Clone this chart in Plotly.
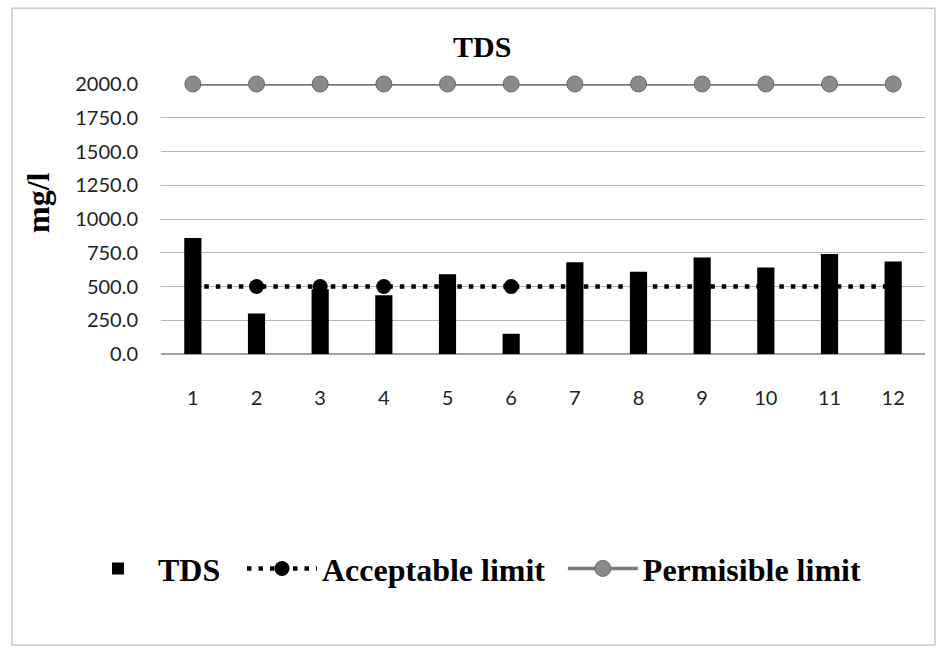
import plotly.graph_objects as go

categories = [str(i) for i in range(1, 13)]
tds = [860, 300, 480, 435, 590, 150, 680, 610, 715, 640, 740, 685]
acceptable = [500] * 12
permissible = [2000] * 12
y_ticks = [0, 250, 500, 750, 1000, 1250, 1500, 1750, 2000]
y_tick_text = [f"{v:.1f}" for v in y_ticks]

fig = go.Figure()
fig.add_trace(go.Bar(
    x=categories, y=tds, name="TDS",
    marker=dict(color="#000000", line=dict(width=0)),
    width=0.27, legend="legend",
))
fig.add_trace(go.Scatter(
    x=categories, y=acceptable, name="Acceptable limit", mode="lines+markers",
    line=dict(color="#000000", width=4.5, dash="4.5px,7px"),
    marker=dict(color="#000000", size=15),
    cliponaxis=False, legend="legend2",
))
fig.add_trace(go.Scatter(
    x=categories, y=permissible, name="Permisible limit", mode="lines+markers",
    line=dict(color="#7a7a7a", width=3.5),
    marker=dict(color="#8a8a8a", size=16, line=dict(color="#6a6a6a", width=1)),
    cliponaxis=False, legend="legend3",
))

legend_font = dict(family="Liberation Serif", size=32, color="#000", weight="bold")
legend_common = dict(orientation="h", xanchor="left", y=-0.795, yanchor="middle",
                     font=legend_font, itemwidth=70, bgcolor="rgba(0,0,0,0)")

fig.update_layout(
    width=940, height=650,
    margin=dict(l=161, r=15, t=84, b=296, autoexpand=False),
    paper_bgcolor="white", plot_bgcolor="white",
    title=dict(text="TDS", x=0.513, xanchor="center", y=0.928, yanchor="middle",
               font=dict(family="Liberation Serif", size=30, color="#000", weight="bold")),
    showlegend=True,
    legend=dict(x=-0.1086, **legend_common),
    legend2=dict(x=0.106, **legend_common),
    legend3=dict(x=0.526, **legend_common),
    shapes=[dict(type="rect", xref="paper", yref="paper",
                 x0=-0.195, x1=1.013, y0=-1.078, y1=1.281,
                 line=dict(color="#c8c8c8", width=1.5), layer="below")],
    annotations=[dict(text="mg/l", xref="paper", yref="paper", x=-0.161, y=0.563,
                      xanchor="center", yanchor="middle", textangle=-90, showarrow=False,
                      font=dict(family="Liberation Serif", size=32, color="#000", weight="bold"))],
)
fig.update_xaxes(
    type="category", range=[-0.5, 11.5], automargin=False,
    showgrid=False, showline=False, zeroline=False,
    tickfont=dict(family="Lato", size=20, color="#222"),
    ticks="", ticklabelstandoff=30,
)
fig.update_yaxes(
    range=[0, 2000], tickvals=y_ticks, ticktext=y_tick_text, automargin=False,
    showgrid=True, gridcolor="#b5b5b5", gridwidth=1,
    zeroline=True, zerolinecolor="#a0a0a0", zerolinewidth=1.5,
    showline=False, ticks="",
    tickfont=dict(family="Lato", size=20, color="#222"),
    ticklabelstandoff=22,
)

fig.write_html("out.html")
